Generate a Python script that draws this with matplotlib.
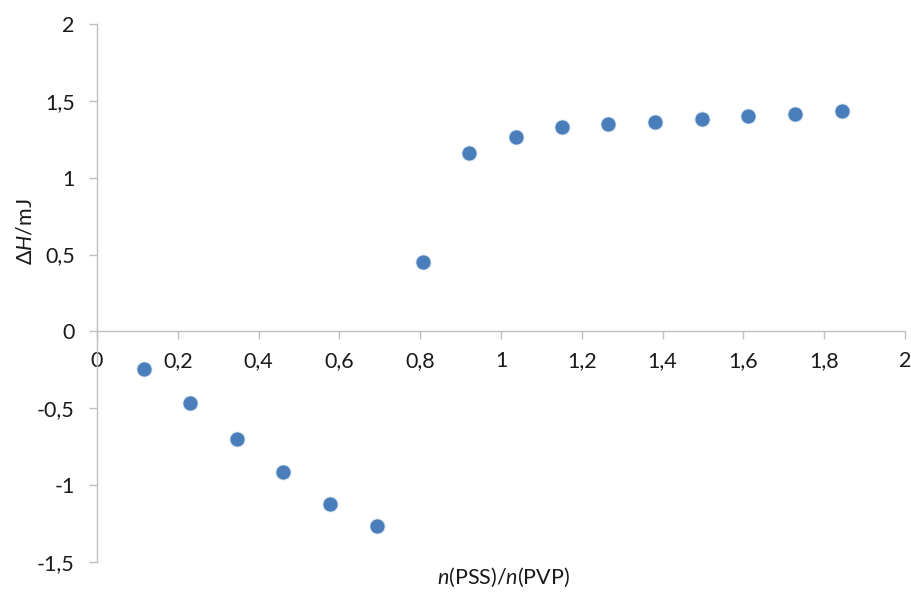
import matplotlib
matplotlib.use("Agg")
import matplotlib.pyplot as plt
from matplotlib.ticker import FixedLocator, FixedFormatter

plt.rcParams['font.family'] = ['Lato', 'DejaVu Sans']
plt.rcParams['mathtext.fontset'] = 'custom'
plt.rcParams['mathtext.rm'] = 'Lato'
plt.rcParams['mathtext.it'] = 'Lato:italic'

x_ratio = [0.116, 0.230, 0.346, 0.460, 0.576, 0.692, 0.806, 0.920,
           1.036, 1.152, 1.266, 1.382, 1.498, 1.612, 1.728, 1.844]
delta_h = [-0.242, -0.464, -0.699, -0.913, -1.122, -1.265, 0.451, 1.160,
           1.267, 1.330, 1.350, 1.362, 1.382, 1.400, 1.417, 1.436]

x_ticks = [0, 0.2, 0.4, 0.6, 0.8, 1.0, 1.2, 1.4, 1.6, 1.8, 2.0]
x_tick_labels = ['0', '0,2', '0,4', '0,6', '0,8', '1', '1,2', '1,4', '1,6', '1,8', '2']
y_ticks = [-1.5, -1.0, -0.5, 0, 0.5, 1.0, 1.5, 2.0]
y_tick_labels = ['-1,5', '-1', '-0,5', '0', '0,5', '1', '1,5', '2']

fig = plt.figure(figsize=(9.12, 5.95), dpi=100)
ax = fig.add_axes([0.1064, 0.0555, 0.8859, 0.9042])

ax.scatter(x_ratio, delta_h, s=118, color='#4a7ebb', edgecolors='#dde6f2',
           linewidths=0.6, zorder=3, clip_on=False)

ax.set_xlim(0, 2)
ax.set_ylim(-1.5, 2)

for s in ['top', 'right']:
    ax.spines[s].set_visible(False)
ax.spines['bottom'].set_position(('data', 0))
ax.spines['left'].set_color('#bfbfbf')
ax.spines['bottom'].set_color('#bfbfbf')
ax.spines['left'].set_linewidth(1.0)
ax.spines['bottom'].set_linewidth(1.0)

ax.xaxis.set_major_locator(FixedLocator(x_ticks))
ax.xaxis.set_major_formatter(FixedFormatter(x_tick_labels))
ax.yaxis.set_major_locator(FixedLocator(y_ticks))
ax.yaxis.set_major_formatter(FixedFormatter(y_tick_labels))

ax.tick_params(axis='x', direction='out', length=6, width=1.0, color='#bfbfbf',
               labelsize=15.5, labelcolor='#1a1a1a', pad=8)
ax.tick_params(axis='y', direction='out', length=6, width=1.0, color='#bfbfbf',
               labelsize=15.5, labelcolor='#1a1a1a', pad=10)

fig.text(0.028, 0.61, r'$\Delta\mathit{H}$/mJ', fontsize=15.5, color='#1a1a1a',
         rotation=90, ha='center', va='center')
fig.text(0.552, 0.029, r'$\mathit{n}$(PSS)/$\mathit{n}$(PVP)', fontsize=15.5,
         color='#1a1a1a', ha='center', va='center')

fig.savefig('out.png', dpi=100)
